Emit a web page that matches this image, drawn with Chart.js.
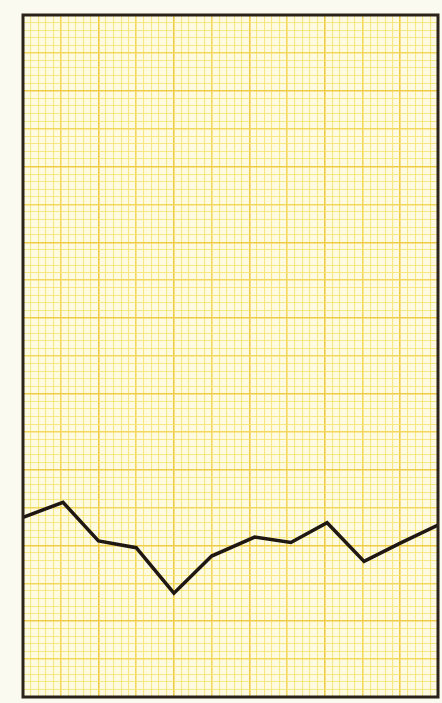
<!DOCTYPE html>
<html>
<head>
<meta charset="utf-8">
<script src="https://cdn.jsdelivr.net/npm/chart.js@4"></script>
<style>
  html, body { margin: 0; padding: 0; background: #fbfaf0; }
  canvas { display: block; }
</style>
</head>
<body>
<canvas id="grafico" width="442" height="703"></canvas>
<script>
// positions in small squares of the graph paper (x: 0-55, y: 0-90)
var pontosX = [0, 5.3, 10, 15, 20, 25, 30.7, 35.5, 40.3, 45.2, 50, 55]
var pontosY = [23.7, 25.7, 20.6, 19.7, 13.7, 18.6, 21.1, 20.4, 23.0, 17.9, 20.3, 22.7]
var larguraPapel = 55
var alturaPapel = 90

const corFina = 'rgba(246, 226, 110, 0.8)'
const corMedia = 'rgba(242, 214, 88, 0.95)'
const corForte = 'rgba(238, 204, 72, 1)'
const corMoldura = '#2b2218'

function corGrade(valor) {
    if (valor % 10 === 0) return corForte
    if (valor % 5 === 0) return corMedia
    return corFina
}
function larguraGrade(valor) {
    if (valor % 5 === 0) return 1.6
    return 1.1
}

// paper colour under the grid, dark frame on top of everything
const papel = {
    id: 'papel',
    beforeDraw(chart) {
        const a = chart.chartArea
        const ctx = chart.ctx
        ctx.save()
        ctx.fillStyle = '#fffbe2'
        ctx.fillRect(a.left, a.top, a.right - a.left, a.bottom - a.top)
        ctx.restore()
    },
    afterDraw(chart) {
        const a = chart.chartArea
        const ctx = chart.ctx
        ctx.save()
        ctx.strokeStyle = corMoldura
        ctx.lineWidth = 3
        ctx.strokeRect(a.left, a.top, a.right - a.left, a.bottom - a.top)
        ctx.restore()
    }
}

const dados = pontosX.map((x, i) => ({ x: x, y: pontosY[i] }))

var grafico = new Chart(document.getElementById('grafico'), {
    type: 'line',
    data: {
        datasets: [{
            data: dados,
            borderColor: '#1f1711',
            borderWidth: 3.5,
            pointRadius: 0,
            tension: 0,
            borderJoinStyle: 'miter'
        }]
    },
    options: {
        responsive: false,
        animation: false,
        layout: { padding: { left: 23, right: 4, top: 15, bottom: 6 } },
        plugins: { legend: { display: false }, tooltip: { enabled: false } },
        scales: {
            x: {
                type: 'linear',
                min: 0,
                max: larguraPapel,
                ticks: { display: false, stepSize: 1, maxTicksLimit: 200 },
                border: { display: false },
                grid: {
                    drawTicks: false,
                    color: c => corGrade(c.tick.value),
                    lineWidth: c => larguraGrade(c.tick.value)
                }
            },
            y: {
                type: 'linear',
                min: 0,
                max: alturaPapel,
                ticks: { display: false, stepSize: 1, maxTicksLimit: 200 },
                border: { display: false },
                grid: {
                    drawTicks: false,
                    color: c => corGrade(c.tick.value),
                    lineWidth: c => larguraGrade(c.tick.value)
                }
            }
        }
    },
    plugins: [papel]
})
</script>
</body>
</html>
